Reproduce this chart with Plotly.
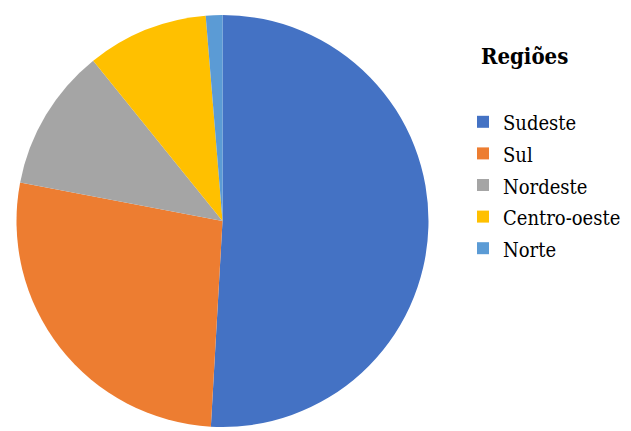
import plotly.graph_objects as go

# Share of each region (percent)
regions = ["Sudeste", "Sul", "Nordeste", "Centro-oeste", "Norte"]
shares = [50.9, 27.1, 11.2, 9.5, 1.3]
colors = ["#4472C4", "#ED7D31", "#A5A5A5", "#FFC000", "#5B9BD5"]

W, H = 631, 431
SERIF = "DejaVu Serif Condensed, DejaVu Serif, serif"

# legend font stays 22px so rows keep ~32px spacing; the glyphs are drawn a bit smaller
legend_labels = [f'<span style="font-size:20px">{r}</span>' for r in regions]

fig = go.Figure(
    go.Pie(
        labels=legend_labels,
        values=shares,
        sort=False,
        direction="clockwise",
        rotation=0,
        textinfo="none",
        marker=dict(colors=colors, line=dict(width=0)),
        domain=dict(x=[4 / W, 425 / W], y=[12 / H, 424 / H]),
    )
)

fig.add_annotation(
    text="<b>Regiões</b>",
    xref="paper", yref="paper",
    x=471 / W, y=1 - 33 / H,
    xanchor="left", yanchor="top",
    showarrow=False,
    font=dict(family=SERIF, size=22, color="#000000"),
)

fig.update_layout(
    width=W,
    height=H,
    margin=dict(l=0, r=0, t=0, b=0),
    paper_bgcolor="white",
    plot_bgcolor="white",
    showlegend=True,
    legend=dict(
        x=455 / W, y=1 - 93 / H,
        xanchor="left", yanchor="top",
        font=dict(family=SERIF, size=22, color="#000000"),
        bgcolor="rgba(0,0,0,0)",
    ),
)

fig.write_html("out.html")
